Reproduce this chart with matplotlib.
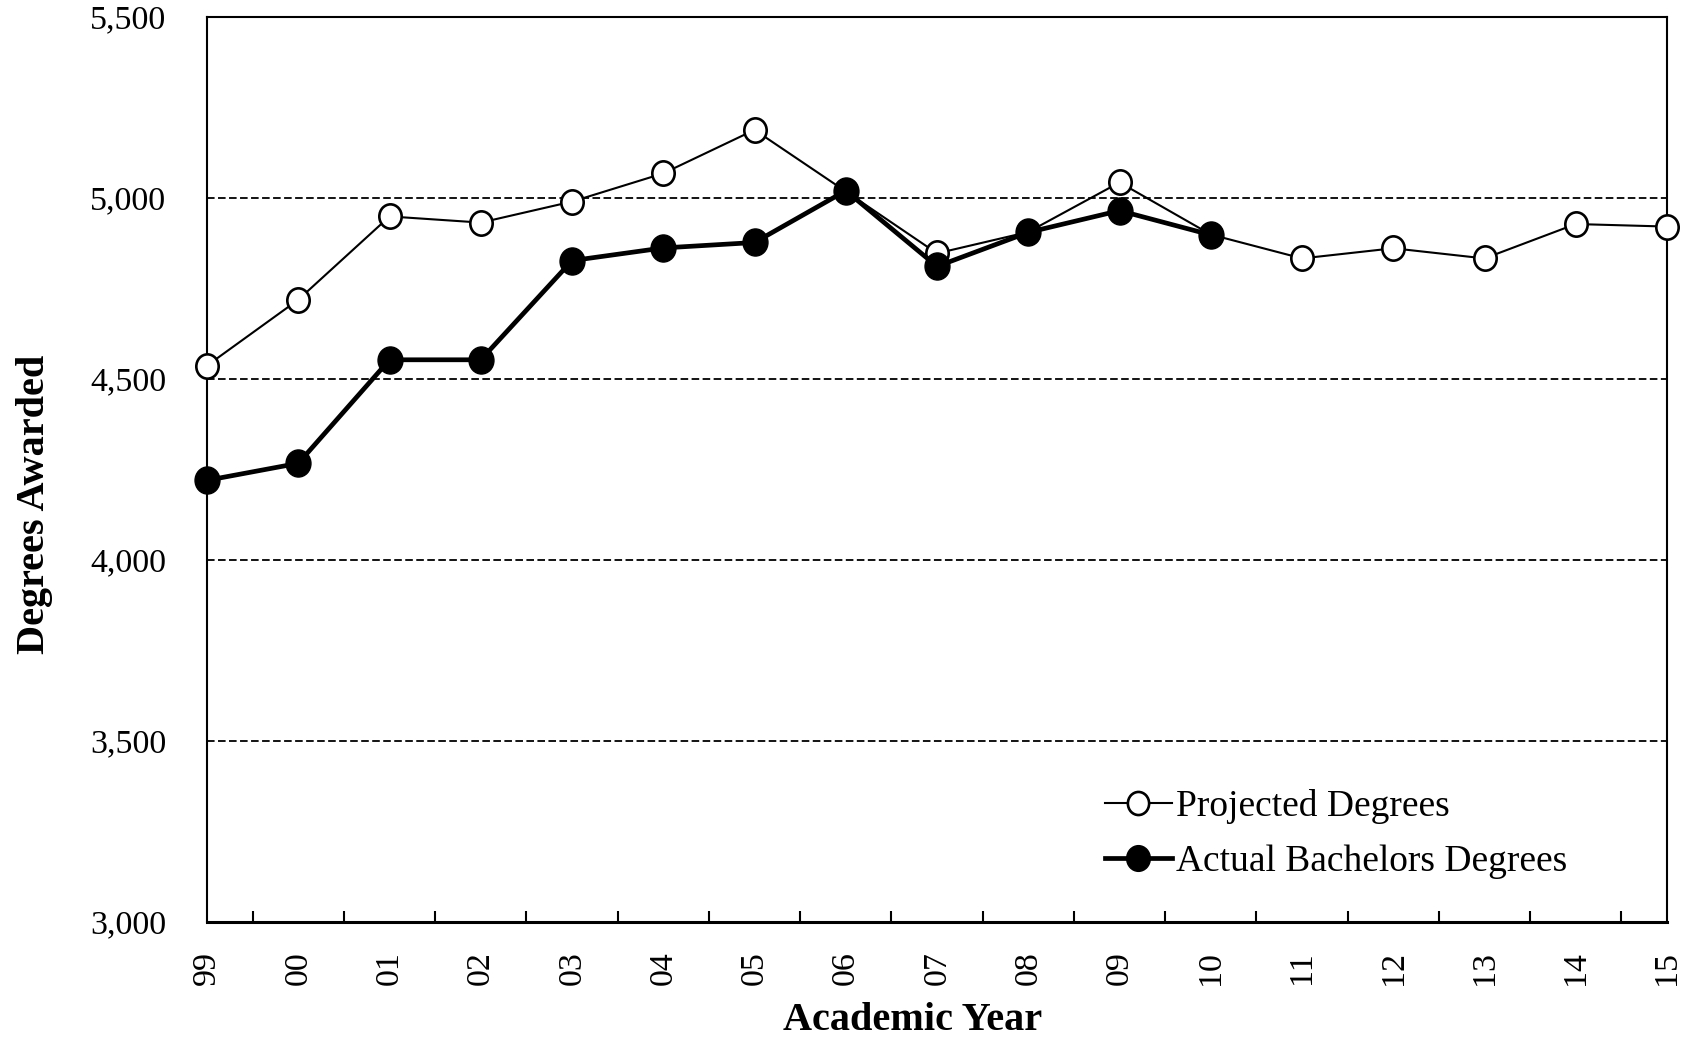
import numpy as np
import matplotlib
matplotlib.use("Agg")
import matplotlib.pyplot as plt
from matplotlib.path import Path
from matplotlib.transforms import Affine2D

years = ["99", "00", "01", "02", "03", "04", "05", "06", "07",
         "08", "09", "10", "11", "12", "13", "14", "15"]

projected = [4537, 4719, 4949, 4932, 4990, 5068, 5188, 5018, 4847,
             4906, 5043, 4899, 4833, 4861, 4833, 4928, 4921]

actual = [4220, 4267, 4553, 4553, 4827, 4862, 4877, 5020, 4811,
          4905, 4965, 4898]

y_ticks = [3000, 3500, 4000, 4500, 5000, 5500]

plt.rcParams["font.family"] = ["Liberation Serif", "DejaVu Serif"]

# slightly tall ellipse, like the original markers
oval = Path.unit_circle().transformed(Affine2D().scale(0.92, 1.0))

fig = plt.figure(figsize=(17, 10.47), dpi=100)
ax = fig.add_axes([0.1218, 0.1194, 0.8588, 0.8644])

x_proj = np.arange(len(projected))
x_act = np.arange(len(actual))

ax.plot(x_proj, projected, color="black", linewidth=1.5,
        marker=oval, markersize=17.5, markerfacecolor="white",
        markeredgecolor="black", markeredgewidth=1.9,
        label="Projected Degrees", zorder=3, clip_on=False)
ax.plot(x_act, actual, color="black", linewidth=3.4,
        marker=oval, markersize=19.5, markerfacecolor="black",
        markeredgecolor="black", markeredgewidth=1.0,
        label="Actual Bachelors Degrees", zorder=4, clip_on=False)

ax.set_xlim(0, len(years) - 1)
ax.set_ylim(3000, 5500)

for v in y_ticks[1:-1]:
    ax.axhline(v, color="black", linewidth=1.3, linestyle=(0, (4.2, 1.9)), zorder=1)

ax.set_yticks(y_ticks)
ax.set_yticklabels([f"{v:,}" for v in y_ticks])
ax.tick_params(axis="y", length=0, pad=29.5, labelsize=24.5)

ax.set_xticks(x_proj)
ax.set_xticklabels(years, rotation=90)
ax.set_xticks(np.arange(0.5, len(years) - 1, 1.0), minor=True)
ax.tick_params(axis="x", which="major", length=0, pad=21, labelsize=24.5)
ax.tick_params(axis="x", which="minor", direction="in", length=8, width=1.5)

for s in ax.spines.values():
    s.set_linewidth(1.5)
    s.set_zorder(2)
ax.spines["bottom"].set_linewidth(2.2)

ax.set_xlabel("Academic Year", fontsize=29, fontweight="bold")
ax.xaxis.set_label_coords(0.483, -0.088)
ax.set_ylabel("Degrees Awarded", fontsize=29, fontweight="bold")
ax.yaxis.set_label_coords(-0.1055, 0.461)

ax.legend(loc="lower left", bbox_to_anchor=(0.602, 0.027), frameon=False,
          fontsize=27, handlelength=1.8, handletextpad=0.1, labelspacing=0.55,
          borderpad=0, markerscale=0.95)

plt.savefig("out.png", dpi=100)
